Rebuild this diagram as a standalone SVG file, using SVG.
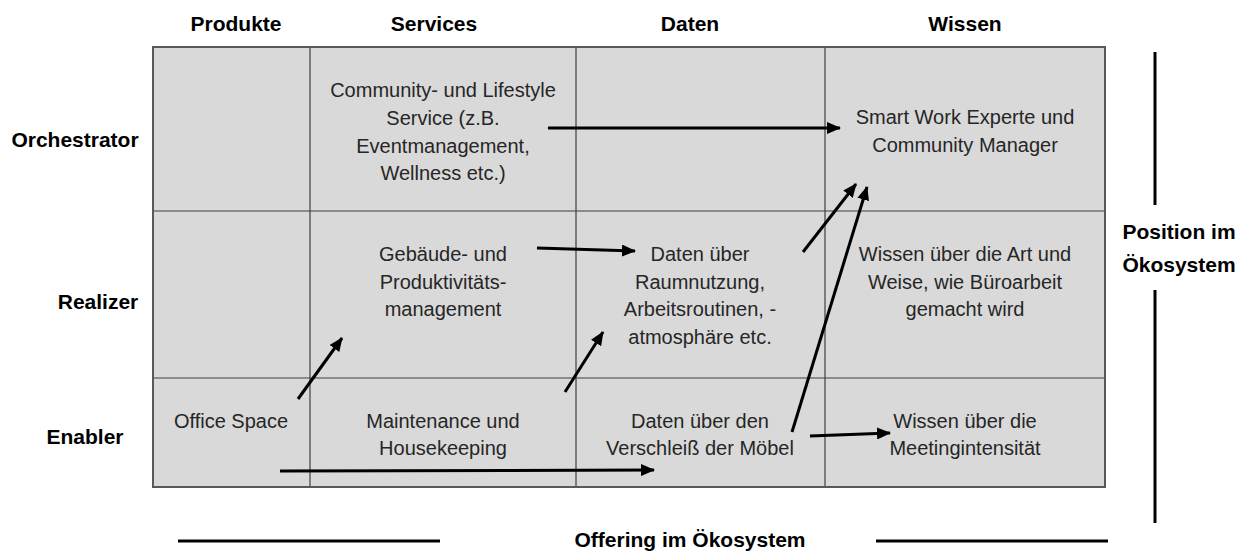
<svg xmlns="http://www.w3.org/2000/svg" width="1249" height="551" viewBox="0 0 1249 551">
<style>
.cell{fill:#d9d9d9;stroke:none}
.grid{stroke:#3f3f3f;stroke-width:1.2;fill:none}
.border{stroke:#595959;stroke-width:2;fill:none}
.t{font-family:"Liberation Sans",Arial,sans-serif;font-size:20px;fill:#262626;text-anchor:middle}
.h{font-family:"Liberation Sans",Arial,sans-serif;font-size:21px;font-weight:bold;fill:#000;text-anchor:middle}
.conn line{stroke:#000;stroke-width:3;fill:none}
.axis{stroke:#000;stroke-width:3}
</style>
<defs>
<marker id="ah" markerUnits="userSpaceOnUse" markerWidth="14" markerHeight="12" refX="13" refY="6" orient="auto">
<path d="M0,0 L14,6 L0,12 Z" fill="#000"/>
</marker>
</defs>
<rect width="1249" height="551" fill="#fff"/>
<g id="table">
<rect class="cell" x="153" y="47" width="952" height="440"/>
<line class="grid" x1="310" y1="47" x2="310" y2="487"/>
<line class="grid" x1="576" y1="47" x2="576" y2="487"/>
<line class="grid" x1="825" y1="47" x2="825" y2="487"/>
<line class="grid" x1="153" y1="211" x2="1105" y2="211"/>
<line class="grid" x1="153" y1="378" x2="1105" y2="378"/>
<rect class="border" x="153" y="47" width="952" height="440"/>
</g>
<g id="headers">
<text class="h" x="236" y="31">Produkte</text>
<text class="h" x="434" y="31">Services</text>
<text class="h" x="690" y="31">Daten</text>
<text class="h" x="965" y="31">Wissen</text>
<text class="h" x="75" y="147">Orchestrator</text>
<text class="h" x="98" y="309">Realizer</text>
<text class="h" x="85" y="444">Enabler</text>
</g>
<g id="n-community">
<text class="t" x="443" y="97">Community- und Lifestyle</text>
<text class="t" x="443" y="125">Service (z.B.</text>
<text class="t" x="443" y="153">Eventmanagement,</text>
<text class="t" x="443" y="180">Wellness etc.)</text>
</g>
<g id="n-smartwork">
<text class="t" x="965" y="124">Smart Work Experte und</text>
<text class="t" x="965" y="152">Community Manager</text>
</g>
<g id="n-gebaeude">
<text class="t" x="443" y="261">Gebäude- und</text>
<text class="t" x="443" y="289">Produktivitäts-</text>
<text class="t" x="443" y="316">management</text>
</g>
<g id="n-raumnutzung">
<text class="t" x="700" y="261">Daten über</text>
<text class="t" x="700" y="289">Raumnutzung,</text>
<text class="t" x="700" y="316">Arbeitsroutinen, -</text>
<text class="t" x="700" y="344">atmosphäre etc.</text>
</g>
<g id="n-bueroarbeit">
<text class="t" x="965" y="261">Wissen über die Art und</text>
<text class="t" x="965" y="289">Weise, wie Büroarbeit</text>
<text class="t" x="965" y="316">gemacht wird</text>
</g>
<g id="n-office">
<text class="t" x="231" y="428">Office Space</text>
</g>
<g id="n-maintenance">
<text class="t" x="443" y="428">Maintenance und</text>
<text class="t" x="443" y="455">Housekeeping</text>
</g>
<g id="n-verschleiss">
<text class="t" x="700" y="428">Daten über den</text>
<text class="t" x="700" y="455">Verschleiß der Möbel</text>
</g>
<g id="n-meeting">
<text class="t" x="965" y="428">Wissen über die</text>
<text class="t" x="965" y="455">Meetingintensität</text>
</g>
<g id="connectors" class="conn">
<line x1="548" y1="128" x2="840" y2="128" marker-end="url(#ah)"/>
<line x1="537" y1="248" x2="635" y2="251" marker-end="url(#ah)"/>
<line x1="298" y1="399" x2="342" y2="338" marker-end="url(#ah)"/>
<line x1="565" y1="392" x2="603" y2="332" marker-end="url(#ah)"/>
<line x1="803" y1="252" x2="856" y2="184" marker-end="url(#ah)"/>
<line x1="792" y1="432" x2="867" y2="187" marker-end="url(#ah)"/>
<line x1="810" y1="436" x2="890" y2="433" marker-end="url(#ah)"/>
<line x1="280" y1="471" x2="654" y2="470" marker-end="url(#ah)"/>
</g>
<g id="axes">
<line class="axis" x1="1155" y1="52" x2="1155" y2="205"/>
<line class="axis" x1="1155" y1="290" x2="1155" y2="523"/>
<text class="h" x="1179" y="239">Position im</text>
<text class="h" x="1179" y="272">Ökosystem</text>
<line class="axis" x1="178" y1="541" x2="440" y2="541"/>
<line class="axis" x1="876" y1="541" x2="1108" y2="541"/>
<text class="h" x="690" y="547">Offering im Ökosystem</text>
</g>
</svg>
